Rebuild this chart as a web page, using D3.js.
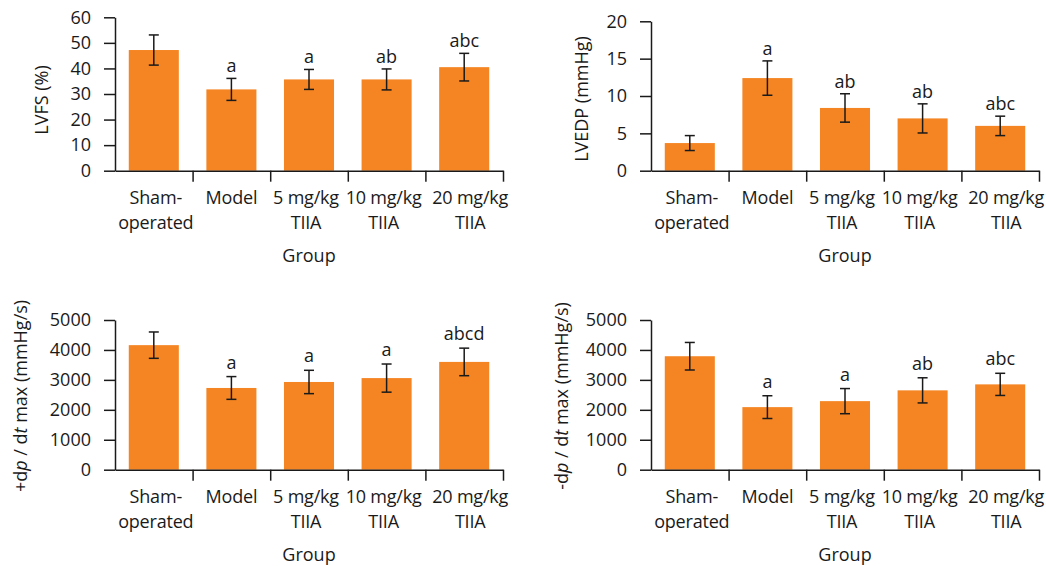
<!DOCTYPE html>
<html>
<head>
<meta charset="utf-8">
<script src="https://cdn.jsdelivr.net/npm/d3@7"></script>
<style>
	body { margin: 0; background: #fff; }
	svg text { font-family: "Open Sans", sans-serif; fill: #1a1a1a; }
</style>
</head>
<body>
<svg id="chart" width="1046" height="566"></svg>
<script>
// ------------------------
// Data
// ------------------------
const groups = [ 'Sham-operated', 'Model', '5 mg/kg TIIA', '10 mg/kg TIIA', '20 mg/kg TIIA' ];
const groupLines = [ [ 'Sham-', 'operated' ], [ 'Model' ], [ '5 mg/kg', 'TIIA' ], [ '10 mg/kg', 'TIIA' ], [ '20 mg/kg', 'TIIA' ] ];

const lvfsMean = [ 47.2, 31.8, 35.7, 35.7, 40.5 ];
const lvfsSd = [ 5.9, 4.3, 3.9, 4.1, 5.4 ];
const lvfsSig = [ '', 'a', 'a', 'ab', 'abc' ];
const lvfsTicks = [ 0, 10, 20, 30, 40, 50, 60 ];

const lvedpMean = [ 3.7, 12.4, 8.4, 7.0, 6.0 ];
const lvedpSd = [ 1.0, 2.3, 1.9, 1.95, 1.3 ];
const lvedpSig = [ '', 'a', 'ab', 'ab', 'abc' ];
const lvedpTicks = [ 0, 5, 10, 15, 20 ];

const dpMaxMean = [ 4160, 2730, 2930, 3060, 3600 ];
const dpMaxSd = [ 440, 380, 390, 470, 460 ];
const dpMaxSig = [ '', 'a', 'a', 'a', 'abcd' ];

const dpMinMean = [ 3790, 2090, 2290, 2650, 2850 ];
const dpMinSd = [ 460, 380, 420, 420, 370 ];
const dpMinSig = [ '', 'a', 'a', 'ab', 'abc' ];
const dpTicks = [ 0, 1000, 2000, 3000, 4000, 5000 ];

const BAR = '#f58523';
const INK = '#1a1a1a';
const FS = 18;
// the original's category labels are not quite centred on their bands
const LABEL_NUDGE = [ 2, 0, -3, -3, 6 ];

const svg = d3.select( '#chart' );

// panel geometry in px
const panels = [
	{ mean: lvfsMean, sd: lvfsSd, sig: lvfsSig, ticks: lvfsTicks, title: [ [ 'LVFS (%)' ] ],
		x0: 115, x1: 503, yTop: 17.3, yBot: 170.7, titleX: 48, titleY: 100, gap: 6 },
	{ mean: lvedpMean, sd: lvedpSd, sig: lvedpSig, ticks: lvedpTicks, title: [ [ 'LVEDP (mmHg)' ] ],
		x0: 651, x1: 1039, yTop: 21.3, yBot: 170.7, titleX: 588, titleY: 99, gap: 6 },
	{ mean: dpMaxMean, sd: dpMaxSd, sig: dpMaxSig, ticks: dpTicks,
		title: [ [ '+d' ], [ 'p', true ], [ ' / d' ], [ 't', true ], [ ' max (mmHg/s)' ] ],
		x0: 115, x1: 503, yTop: 320, yBot: 469.7, titleX: 27, titleY: 396, gap: 8 },
	{ mean: dpMinMean, sd: dpMinSd, sig: dpMinSig, ticks: dpTicks,
		title: [ [ '-d' ], [ 'p', true ], [ ' / d' ], [ 't', true ], [ ' max (mmHg/s)' ] ],
		x0: 651, x1: 1039, yTop: 320, yBot: 469.7, titleX: 568, titleY: 396, gap: 8 },
];

panels.forEach( renderPanel );

function renderPanel( p ) {
	const g = svg.append( 'g' );

	const x = d3.scaleBand()
		.domain( groups )
		.range( [ p.x0, p.x1 ] );

	const y = d3.scaleLinear()
		.domain( d3.extent( p.ticks ) )
		.range( [ p.yBot, p.yTop ] );

	const barW = x.bandwidth() * 0.645;
	const mid = d => x( d ) + x.bandwidth() / 2;

	// bars
	g.selectAll( 'rect' )
		.data( groups )
		.join( 'rect' )
		.attr( 'x', d => x( d ) + ( x.bandwidth() - barW ) / 2 )
		.attr( 'y', ( d, i ) => y( p.mean[ i ] ) )
		.attr( 'width', barW )
		.attr( 'height', ( d, i ) => y( 0 ) - y( p.mean[ i ] ) )
		.attr( 'fill', BAR );

	// error bars
	const err = g.append( 'g' )
		.attr( 'stroke', INK )
		.attr( 'stroke-width', 1.5 )
		.selectAll( 'g' )
		.data( groups )
		.join( 'g' )
		.attr( 'transform', d => `translate(${ mid( d ) },0)` );

	err.append( 'line' )
		.attr( 'y1', ( d, i ) => y( p.mean[ i ] + p.sd[ i ] ) )
		.attr( 'y2', ( d, i ) => y( p.mean[ i ] - p.sd[ i ] ) );
	err.append( 'line' )
		.attr( 'x1', -5 ).attr( 'x2', 5 )
		.attr( 'y1', ( d, i ) => y( p.mean[ i ] + p.sd[ i ] ) )
		.attr( 'y2', ( d, i ) => y( p.mean[ i ] + p.sd[ i ] ) );
	err.append( 'line' )
		.attr( 'x1', -5 ).attr( 'x2', 5 )
		.attr( 'y1', ( d, i ) => y( p.mean[ i ] - p.sd[ i ] ) )
		.attr( 'y2', ( d, i ) => y( p.mean[ i ] - p.sd[ i ] ) );

	// significance letters
	g.append( 'g' )
		.selectAll( 'text' )
		.data( groups )
		.join( 'text' )
		.attr( 'x', mid )
		.attr( 'y', ( d, i ) => y( p.mean[ i ] + p.sd[ i ] ) - p.gap )
		.attr( 'text-anchor', 'middle' )
		.style( 'font-size', FS + 'px' )
		.text( ( d, i ) => p.sig[ i ] );

	// y axis
	const yAxis = d3.axisLeft( y )
		.tickValues( p.ticks )
		.tickFormat( d3.format( 'd' ) )
		.tickSize( 11 )
		.tickSizeOuter( 0 )
		.tickPadding( 13 );
	const ya = g.append( 'g' )
		.attr( 'transform', `translate(${ p.x0 },0)` )
		.call( yAxis )
		.attr( 'font-family', null )
		.attr( 'font-size', null );
	ya.selectAll( 'path, line' ).attr( 'stroke', INK ).attr( 'stroke-width', 1.5 );
	ya.selectAll( 'text' )
		.style( 'font-size', FS + 'px' )
		.attr( 'fill', INK );

	// x axis: ticks sit on the group boundaries
	const xb = d3.scaleLinear().domain( [ 0, groups.length ] ).range( [ p.x0, p.x1 ] );
	const xAxis = d3.axisBottom( xb )
		.tickValues( d3.range( 1, groups.length + 1 ) )
		.tickSize( 11 )
		.tickSizeOuter( 0 )
		.tickFormat( '' );
	const xa = g.append( 'g' )
		.attr( 'transform', `translate(0,${ p.yBot })` )
		.call( xAxis );
	xa.selectAll( 'path, line' ).attr( 'stroke', INK ).attr( 'stroke-width', 1.5 );

	// category labels
	const lab = g.append( 'g' )
		.selectAll( 'text' )
		.data( groups )
		.join( 'text' )
		.attr( 'text-anchor', 'middle' )
		.style( 'font-size', FS + 'px' )
		.style( 'letter-spacing', '-0.2px' );
	lab.selectAll( 'tspan' )
		.data( ( d, i ) => groupLines[ i ].map( t => ( { t, d, i } ) ) )
		.join( 'tspan' )
		.attr( 'x', o => mid( o.d ) + LABEL_NUDGE[ o.i ] )
		.attr( 'y', ( o, j ) => p.yBot + 33 + j * 25 )
		.text( o => o.t );

	// x title
	g.append( 'text' )
		.attr( 'x', ( p.x0 + p.x1 ) / 2 )
		.attr( 'y', p.yBot + 91 )
		.attr( 'text-anchor', 'middle' )
		.style( 'font-size', FS + 'px' )
		.text( 'Group' );

	// y title
	g.append( 'text' )
		.attr( 'transform', `translate(${ p.titleX },${ p.titleY }) rotate(-90)` )
		.attr( 'text-anchor', 'middle' )
		.style( 'font-size', FS + 'px' )
		.selectAll( 'tspan' )
		.data( p.title )
		.join( 'tspan' )
		.style( 'font-style', d => d[ 1 ] ? 'italic' : null )
		.text( d => d[ 0 ] );
}
</script>
</body>
</html>
